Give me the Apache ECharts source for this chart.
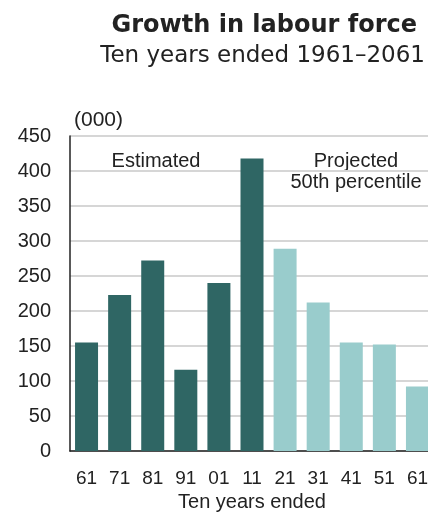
<!DOCTYPE html>
<html>
<head>
<meta charset="utf-8">
<script src="https://cdn.jsdelivr.net/npm/echarts@6/dist/echarts.min.js"></script>
<style>
  html, body { margin: 0; padding: 0; background: #ffffff; }
  #chart { width: 428px; height: 513px; }
</style>
</head>
<body>
<div id="chart"></div>
<script>
// Ten-year periods (year ended), labour force growth in thousands
const categories = ['61', '71', '81', '91', '01', '11', '21', '31', '41', '51', '61 '];
const estimated = [155, 223, 272, 116, 240, 418, null, null, null, null, null];
const projected = [null, null, null, null, null, null, 289, 212, 155, 152, 92];
const yTicks = [0, 50, 100, 150, 200, 250, 300, 350, 400, 450];

const DARK = '#2f6664';
const LIGHT = '#99cccc';
const LABEL_FONT = 'Liberation Sans, Arial, sans-serif';

const chart = echarts.init(document.getElementById('chart'), null, { renderer: 'canvas' });

chart.setOption({
  animation: false,
  backgroundColor: '#ffffff',
  title: [
    {
      text: 'Growth in labour force',
      right: 11,
      top: 14,
      padding: 0,
      textStyle: { fontFamily: 'DejaVu Sans, sans-serif', fontWeight: 'bold', fontSize: 24, color: '#222222' }
    },
    {
      text: 'Ten years ended 1961\u20132061',
      right: 3,
      top: 45,
      padding: 0,
      textStyle: { fontFamily: 'DejaVu Sans, sans-serif', fontWeight: 'normal', fontSize: 23, color: '#222222' }
    }
  ],
  grid: { left: 70, top: 136, width: 364, height: 315, containLabel: false, outerBoundsMode: 'none' },
  xAxis: {
    type: 'category',
    data: categories,
    name: 'Ten years ended',
    nameLocation: 'middle',
    nameGap: 38,
    nameTextStyle: { fontFamily: LABEL_FONT, fontSize: 20, color: '#222222' },
    axisLine: { show: true, lineStyle: { color: '#222222', width: 1.5 } },
    axisTick: { show: false },
    axisLabel: {
      fontFamily: LABEL_FONT, fontSize: 19, color: '#222222', margin: 18,
      formatter: v => v.trim()
    }
  },
  yAxis: {
    type: 'value',
    min: 0,
    max: yTicks[yTicks.length - 1],
    interval: 50,
    name: '(000)',
    nameLocation: 'end',
    nameGap: 5,
    nameTextStyle: { fontFamily: LABEL_FONT, fontSize: 21, color: '#222222', align: 'left', padding: [0, 0, 0, 4] },
    axisLine: { show: true, lineStyle: { color: '#222222', width: 1.5 } },
    axisTick: { show: false },
    axisLabel: { fontFamily: LABEL_FONT, fontSize: 20, color: '#222222', margin: 19 },
    splitLine: { show: true, lineStyle: { color: '#d6d6d6', width: 2 } }
  },
  series: [
    {
      name: 'Estimated',
      type: 'bar',
      stack: 'growth',
      barWidth: 23,
      data: estimated,
      itemStyle: { color: DARK }
    },
    {
      name: 'Projected',
      type: 'bar',
      stack: 'growth',
      barWidth: 23,
      data: projected,
      itemStyle: { color: LIGHT }
    }
  ],
  graphic: [
    {
      type: 'text', x: 156, y: 151,
      style: { text: 'Estimated', font: '20px ' + LABEL_FONT, fill: '#222222', align: 'center', verticalAlign: 'top' }
    },
    {
      type: 'text', x: 356, y: 151,
      style: { text: 'Projected\n50th percentile', font: '20px ' + LABEL_FONT, fill: '#222222', align: 'center', verticalAlign: 'top', lineHeight: 21 }
    }
  ]
});
</script>
</body>
</html>
